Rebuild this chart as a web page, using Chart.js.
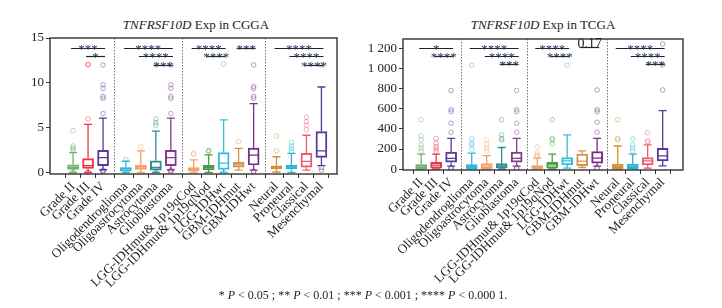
<!DOCTYPE html>
<html>
<head>
<meta charset="utf-8">
<script src="https://cdn.jsdelivr.net/npm/chart.js@4.4.1/dist/chart.umd.min.js"></script>
<style>
  body { margin: 0; background: #fff; width: 722px; height: 308px; position: relative; overflow: hidden;
         font-family: "Liberation Serif", "Times New Roman", serif; color: #222; }
  .title { position: absolute; top: 17px; font-size: 13px; white-space: nowrap; transform: translateX(-50%); }
  canvas { position: absolute; top: 0; }
  #foot { position: absolute; top: 288px; left: 363px; transform: translateX(-50%); font-size: 12px; white-space: nowrap; }
</style>
</head>
<body>
<div class="title" style="left:196px"><i>TNFRSF10D</i> Exp in CGGA</div>
<div class="title" style="left:543px"><i>TNFRSF10D</i> Exp in TCGA</div>
<canvas id="cgga" width="360" height="300" style="left:0"></canvas>
<canvas id="tcga" width="362" height="300" style="left:360px"></canvas>
<div id="foot">* <i>P</i> &lt; 0.05 ; ** <i>P</i> &lt; 0.01 ; *** <i>P</i> &lt; 0.001 ; **** <i>P</i> &lt; 0.000 1.</div>

<script>
// categories, grouped as in the figure
const groupSizes = [3, 4, 5, 4];
const categories = ['Grade II', 'Grade III', 'Grade IV',
  'Oligodendroglioma', 'Oligoastrocytoma', 'Astrocytoma', 'Glioblastoma',
  'LGG-IDHmut& 1p19qCod', 'LGG-IDHmut& 1p19qNod', 'LGG-IDHwt', 'GBM-IDHmut', 'GBM-IDHwt',
  'Neural', 'Proneural', 'Classical', 'Mesenchymal'];
const boxColors = ['#6cb46a', '#e8364c', '#5a3a9a',
  '#30b6dc', '#f4a066', '#2e8e95', '#853a8c',
  '#f4a066', '#4a9b44', '#36bce0', '#d8954a', '#7a2d8a',
  '#d39035', '#2db3d8', '#ef5b6a', '#5a3898'];

// CGGA values
const cggaMin = [0.05, 0.05, 0.35, 0.05, 0.05, 0.05, 0.35, 0.05, 0.05, 0.05, 0.3, 0.3, 0.1, 0.05, 0.3, 0.8];
const cggaQ1 = [0.4, 0.5, 0.8, 0.2, 0.4, 0.3, 0.8, 0.2, 0.35, 0.4, 0.63, 0.88, 0.44, 0.44, 0.63, 1.73];
const cggaMedian = [0.6, 0.8, 1.7, 0.5, 0.65, 0.6, 1.7, 0.4, 0.6, 1.1, 0.9, 1.98, 0.6, 0.66, 1.29, 2.46];
const cggaQ3 = [0.9, 1.6, 2.5, 0.6, 0.85, 1.35, 2.5, 0.6, 0.85, 2.25, 1.18, 2.75, 0.8, 0.88, 2.17, 4.6];
const cggaMax = [2.25, 5.4, 6.1, 1.3, 2.45, 4.65, 6.1, 1.45, 2.0, 5.9, 2.72, 7.7, 1.8, 2.17, 4.19, 9.55];
const cggaOutliers = [
  [0.02, 0.1, 2.5, 2.65, 2.8, 3.0, 4.7],
  [0.05, 0.12, 6.0, 12.0, 12.1],
  [0.1, 0.2, 0.3, 6.6, 8.3, 8.5, 9.4, 9.8, 12.0],
  [1.5],
  [2.9],
  [0.05, 5.3, 5.6, 6.0, 12.0],
  [0.1, 0.2, 0.3, 6.6, 8.3, 8.5, 9.4, 9.8, 12.0],
  [2.1, 2.2],
  [2.4, 2.5],
  [0.05, 12.1],
  [3.5],
  [0.1, 0.2, 8.3, 8.5, 9.4, 9.6, 12.0],
  [2.46, 4.1],
  [2.4, 2.7, 3.0, 3.4],
  [4.8, 5.3, 5.7, 6.2],
  [0.3, 0.6, 12.0]
];
const cggaTicks = [0, 5, 10, 15];
// [from index, to index, height, label]
const cggaSig = [
  [0, 2, 13.86, '***'], [1, 2, 13.0, '*'],
  [3, 6, 13.86, '****'], [4, 6, 13.0, '****'], [5, 6, 12.0, '***'],
  [7, 9, 13.86, '****'], [8, 9, 13.0, '****'], [10, 11, 13.86, '***'],
  [12, 15, 13.86, '****'], [13, 15, 13.0, '****'], [14, 15, 12.0, '****']
];

// TCGA values
const tcgaMin = [2, 2, 30, 2, 2, 2, 30, 2, 2, 10, 17, 30, 2, 2, 10, 33];
const tcgaQ1 = [5, 10, 70, 5, 5, 13, 70, 5, 10, 42, 35, 60, 5, 5, 42, 82];
const tcgaMedian = [23, 40, 108, 26, 30, 33, 108, 17, 42, 82, 80, 110, 26, 26, 82, 131];
const tcgaQ3 = [45, 68, 170, 45, 55, 55, 170, 35, 68, 115, 150, 175, 50, 50, 115, 207];
const tcgaMax = [150, 150, 305, 160, 135, 215, 305, 110, 150, 340, 182, 306, 230, 150, 240, 580];
const tcgaOutliers = [
  [180, 210, 240, 290, 330, 490],
  [175, 200, 225, 258, 305],
  [5, 10, 15, 365, 455, 570, 590, 780],
  [200, 240, 260, 300, 1030],
  [180, 210, 250, 290],
  [290, 305, 340, 490],
  [5, 10, 15, 365, 455, 570, 590, 780],
  [130, 140, 160, 220],
  [250, 290, 305, 490],
  [1030],
  [],
  [5, 10, 366, 465, 570, 590, 785],
  [290, 305, 490],
  [180, 210, 240, 300],
  [270, 280, 362],
  [785, 1035, 1240]
];
const tcgaTicks = [0, 200, 400, 600, 800, 1000, 1200];
const tcgaSig = [
  [0, 2, 1203, '*'], [1, 2, 1120, '****'],
  [3, 6, 1203, '****'], [4, 6, 1120, '****'], [5, 6, 1038, '***'],
  [7, 9, 1203, '****'], [8, 9, 1120, '****'], [10, 11, 1212, '0.17'],
  [12, 15, 1203, '****'], [13, 15, 1120, '****'], [14, 15, 1038, '***']
];

const SERIF = '"Liberation Serif", "Times New Roman", serif';

function positions(gap) {
  const out = [];
  let i = 0;
  groupSizes.forEach((n, g) => {
    for (let k = 0; k < n; k++) { out.push(i + g * gap); i++; }
  });
  return out;
}

function withAlpha(hex, a) {
  const n = parseInt(hex.slice(1), 16);
  return 'rgba(' + (n >> 16) + ',' + ((n >> 8) & 255) + ',' + (n & 255) + ',' + a + ')';
}

// whiskers, medians, group separators, frame and significance marks
const boxExtras = {
  id: 'boxExtras',
  afterDatasetsDraw(chart, args, opts) {
    const { ctx, chartArea } = chart;
    const x = chart.scales.x, y = chart.scales.y;
    const pos = opts.pos;
    ctx.save();
    // group separators
    ctx.strokeStyle = '#777';
    ctx.lineWidth = 1;
    ctx.setLineDash([1.5, 1.5]);
    let idx = 0;
    groupSizes.slice(0, -1).forEach(n => {
      idx += n;
      const px = Math.round((x.getPixelForValue(pos[idx - 1]) + x.getPixelForValue(pos[idx])) / 2) + 0.5;
      ctx.beginPath();
      ctx.moveTo(px, chartArea.top);
      ctx.lineTo(px, chartArea.bottom);
      ctx.stroke();
    });
    ctx.setLineDash([]);

    // whiskers and medians
    ctx.lineWidth = 1.3;
    pos.forEach((p, i) => {
      const cx = x.getPixelForValue(p);
      ctx.strokeStyle = boxColors[i];
      const yMin = y.getPixelForValue(opts.min[i]);
      const yQ1 = y.getPixelForValue(opts.q1[i]);
      const yQ3 = y.getPixelForValue(opts.q3[i]);
      const yMax = y.getPixelForValue(opts.max[i]);
      const yMed = y.getPixelForValue(opts.median[i]);
      ctx.beginPath();
      ctx.moveTo(cx, yQ3); ctx.lineTo(cx, yMax);
      ctx.moveTo(cx - 4, yMax); ctx.lineTo(cx + 4, yMax);
      ctx.moveTo(cx, yQ1); ctx.lineTo(cx, yMin);
      ctx.moveTo(cx - 4, yMin); ctx.lineTo(cx + 4, yMin);
      ctx.moveTo(cx - 5.5, yMed); ctx.lineTo(cx + 5.5, yMed);
      ctx.stroke();
    });

    // frame
    ctx.strokeStyle = '#333';
    ctx.lineWidth = 1.4;
    ctx.strokeRect(chartArea.left, chartArea.top, chartArea.right - chartArea.left, chartArea.bottom - chartArea.top);

    // significance brackets
    opts.sig.forEach(([a, b, h, label]) => {
      const x1 = x.getPixelForValue(pos[a]) - 2;
      const x2 = x.getPixelForValue(pos[b]) + 2;
      const py = Math.round(y.getPixelForValue(h)) + 0.5;
      ctx.strokeStyle = '#222';
      ctx.lineWidth = 1.2;
      ctx.beginPath();
      ctx.moveTo(x1, py); ctx.lineTo(x2, py);
      ctx.stroke();
      const isStars = label.indexOf('*') === 0;
      ctx.font = (isStars ? '13px ' : '14px ') + SERIF;
      ctx.fillStyle = isStars ? '#2b3a66' : '#222';
      ctx.textAlign = 'center';
      ctx.textBaseline = 'alphabetic';
      ctx.fillText(label, (x1 + x2) / 2, isStars ? py + 4.5 : py);
    });
    ctx.restore();
  }
};

function makeChart(id, cfg) {
  const pos = positions(cfg.gap);
  const boxes = pos.map((p, i) => ({ x: p, y: [cfg.q1[i], cfg.q3[i]] }));
  const pts = [], ptColors = [];
  cfg.outliers.forEach((list, i) => list.forEach(v => {
    pts.push({ x: pos[i], y: v });
    ptColors.push(withAlpha(boxColors[i], 0.5));
  }));

  return new Chart(document.getElementById(id), {
    type: 'bar',
    data: {
      datasets: [{
        type: 'bar',
        data: boxes,
        backgroundColor: 'rgba(255,255,255,0)',
        borderColor: boxColors,
        borderWidth: 1.3,
        borderSkipped: false,
        barThickness: 11
      }, {
        type: 'scatter',
        data: pts,
        pointStyle: 'circle',
        pointRadius: 2.3,
        pointBorderWidth: 0.9,
        pointBackgroundColor: 'rgba(255,255,255,0)',
        pointBorderColor: ptColors
      }]
    },
    options: {
      responsive: false,
      animation: false,
      events: [],
      layout: { padding: { top: cfg.top, right: cfg.right, left: 0, bottom: 0 } },
      plugins: {
        legend: { display: false },
        tooltip: { enabled: false },
        boxExtras: { pos, sig: cfg.sig, min: cfg.min, q1: cfg.q1, median: cfg.median, q3: cfg.q3, max: cfg.max }
      },
      scales: {
        x: {
          type: 'linear',
          min: cfg.xMin, max: cfg.xMax,
          border: { display: false },
          grid: { drawOnChartArea: false, drawTicks: true, tickLength: 4, color: '#333', lineWidth: 1 },
          afterBuildTicks: s => { s.ticks = pos.map(v => ({ value: v })); },
          afterFit: s => { s.height = cfg.xHeight; },
          ticks: {
            autoSkip: false, minRotation: 45, maxRotation: 45, padding: 1,
            color: '#1e1e1e', font: { family: SERIF, size: 13 },
            callback: (v, i) => categories[i]
          }
        },
        y: {
          min: cfg.yMin, max: cfg.yMax,
          border: { display: false },
          grid: { drawOnChartArea: false, drawTicks: true, tickLength: 4, color: '#333', lineWidth: 1 },
          afterBuildTicks: s => { s.ticks = cfg.ticks.map(v => ({ value: v })); },
          afterFit: s => { s.width = cfg.yWidth; },
          ticks: {
            padding: 2, color: '#1e1e1e', font: { family: SERIF, size: 13 },
            callback: v => v >= 1000 ? String(v).replace(/(\d)(\d{3})$/, '$1 $2') : String(v)
          }
        }
      }
    },
    plugins: [boxExtras]
  });
}

makeChart('cgga', {
  gap: 0.52, xMin: -0.94, xMax: 17.0, yMin: -0.12, yMax: 15,
  top: 38, right: 23, yWidth: 50, xHeight: 126,
  ticks: cggaTicks, sig: cggaSig,
  min: cggaMin, q1: cggaQ1, median: cggaMedian, q3: cggaQ3, max: cggaMax, outliers: cggaOutliers
});

makeChart('tcga', {
  gap: 0.375, xMin: -0.63, xMax: 16.9, yMin: -8, yMax: 1290,
  top: 39, right: 39, yWidth: 43, xHeight: 130,
  ticks: tcgaTicks, sig: tcgaSig,
  min: tcgaMin, q1: tcgaQ1, median: tcgaMedian, q3: tcgaQ3, max: tcgaMax, outliers: tcgaOutliers
});
</script>
</body>
</html>
